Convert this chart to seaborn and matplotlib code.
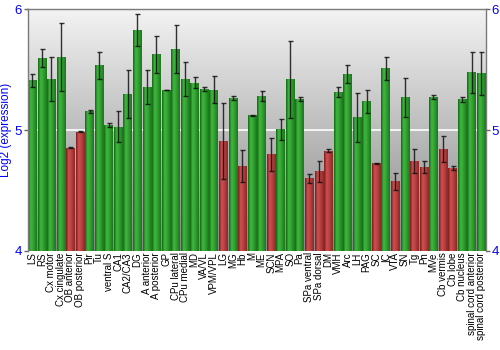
import numpy as np
import pandas as pd
import matplotlib
matplotlib.use("Agg")
import matplotlib.pyplot as plt
from matplotlib.colors import LinearSegmentedColormap
import seaborn as sns

regions = ["LS", "RS", "Cx motor", "Cx cingulate", "OB anterior", "OB posterior",
           "Pir", "Tu", "ventral S", "CA1", "CA2/CA3", "DG", "A anterior",
           "A posterior", "GP", "CPu lateral", "CPu medial", "MD", "VA/VL",
           "VPM/VPL", "LG", "MG", "Hb", "M", "ME", "SCN", "MPA", "SO", "Pa",
           "SPa ventral", "SPa dorsal", "DM", "VMH", "Arc", "LH", "PAG", "SC",
           "IC", "VTA", "SN", "Tg", "Pn", "MVe", "Cb vermis", "Cb lobe",
           "Cb nucleus", "spinal cord anterior", "spinal cord posterior"]

expression = [5.414, 5.597, 5.423, 5.605, 4.854, 4.986,
              5.157, 5.536, 5.041, 5.030, 5.301, 5.829, 5.356,
              5.627, 5.334, 5.671, 5.423, 5.395, 5.340,
              5.337, 4.912, 5.265, 4.702, 5.122, 5.285, 4.801, 5.006, 5.420, 5.257,
              4.602, 4.660, 4.831, 5.320, 5.467, 5.108, 5.240, 4.727,
              5.511, 4.577, 5.273, 4.746, 4.699, 5.276, 4.845, 4.688,
              5.257, 5.481, 5.470]

error = [0.055, 0.072, 0.180, 0.280, 0.005, 0.005,
         0.014, 0.110, 0.017, 0.130, 0.200, 0.135, 0.140,
         0.155, 0.003, 0.200, 0.140, 0.043, 0.014,
         0.110, 0.315, 0.019, 0.133, 0.003, 0.041, 0.138, 0.088, 0.320, 0.015,
         0.036, 0.086, 0.011, 0.041, 0.072, 0.204, 0.097, 0.003,
         0.093, 0.069, 0.163, 0.098, 0.050, 0.017, 0.108, 0.018,
         0.022, 0.169, 0.180]

y_ticks = [4, 5, 6]
baseline = 5.0

df = pd.DataFrame({"region": regions, "expression": expression, "error": error})
df["high"] = df["expression"] >= baseline

GREEN = "#2f9f2f"
RED = "#b83b3b"
palette = {r: (GREEN if h else RED) for r, h in zip(df["region"], df["high"])}

sns.set_theme(style="white")
plt.rcParams["font.family"] = ["Liberation Sans", "DejaVu Sans"]

fig = plt.figure(figsize=(5, 3.5), dpi=100)
ax = fig.add_axes([0.055, 0.283, 0.917, 0.690])

sns.barplot(data=df, x="region", y="expression", hue="region", palette=palette,
            legend=False, width=0.9, errorbar=None, ax=ax, zorder=2)

ymin, ymax = y_ticks[0], y_ticks[-1]
n = len(regions)
ax.set_ylim(ymin, ymax)
ax.set_xlim(-0.5, n - 0.5)

# vertical grey gradient behind the bars: light at the top, darker below
bg = LinearSegmentedColormap.from_list("bg", ["#f3f3f3", "#868686"])
grad = np.linspace(1, 0, 256).reshape(-1, 1)
ax.imshow(grad, cmap=bg, aspect="auto", extent=(-0.5, n - 0.5, ymin, ymax),
          zorder=0, origin="lower")
ax.axhline(baseline, color="white", lw=1.2, zorder=1)

# cylindrical shading on each bar
green_cm = LinearSegmentedColormap.from_list(
    "g", [(0, "#166616"), (0.3, "#3fb83f"), (0.55, "#34a634"), (1, "#1c761c")])
red_cm = LinearSegmentedColormap.from_list(
    "r", [(0, "#7a1c1c"), (0.3, "#cf5050"), (0.55, "#bd4444"), (1, "#8c2727")])
hgrad = np.linspace(0, 1, 64).reshape(1, -1)
for patch, high in zip(ax.patches, df["high"]):
    x0 = patch.get_x()
    w = patch.get_width()
    h = patch.get_height()
    patch.set_edgecolor("none")
    im = ax.imshow(hgrad, cmap=green_cm if high else red_cm, aspect="auto",
                   extent=(x0, x0 + w, ymin, h), zorder=2.5)
    im.set_clip_path(patch)

ax.errorbar(np.arange(n), df["expression"], yerr=df["error"],
            fmt="none", ecolor="#111111", elinewidth=1.0, capsize=1.8,
            capthick=1.0, alpha=0.85, zorder=3)

ax.set_xlabel("")
ax.set_ylabel("Log2 (expression)", color="#0000ff", fontsize=8.5, labelpad=2)
ax.set_yticks(y_ticks)
ax.set_yticklabels([str(t) for t in y_ticks])
ax.tick_params(axis="y", colors="#666666", labelcolor="#0000ff", labelsize=9.5,
               length=3, width=1, direction="out", pad=1,
               left=True, right=True, labelleft=True, labelright=True)
ax.tick_params(axis="x", length=0, pad=1, labelsize=7, labelcolor="black")
plt.setp(ax.get_xticklabels(), rotation=90, ha="center", va="top")

for side in ("left", "top", "right"):
    ax.spines[side].set_color("#7a7a7a")
    ax.spines[side].set_linewidth(1)
ax.spines["bottom"].set_visible(False)

fig.savefig("out.png", dpi=100)
